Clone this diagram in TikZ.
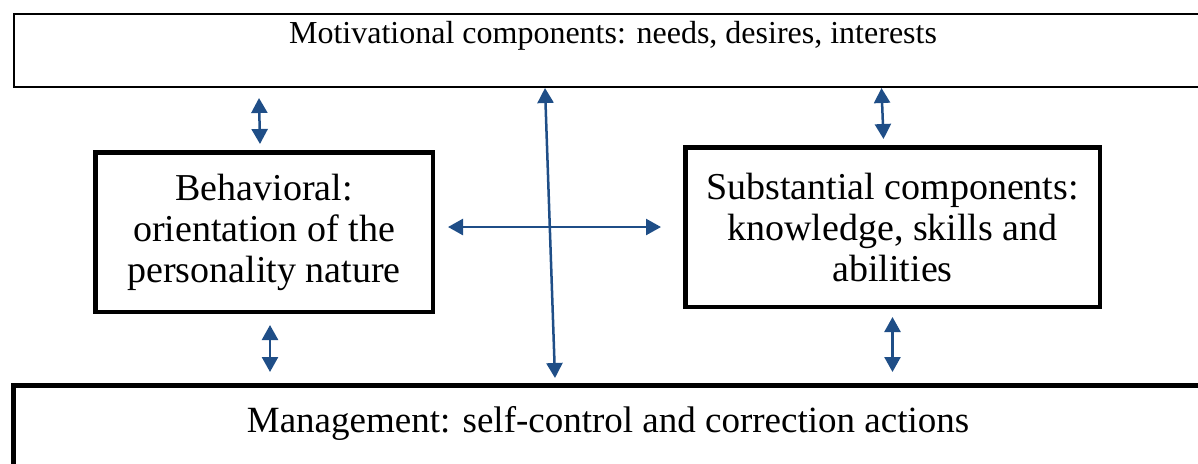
\documentclass[tikz,border=0pt]{standalone}
\usepackage{fontspec}
\setmainfont{Liberation Serif}
\usepackage{xcolor}
\usetikzlibrary{calc,
	positioning,
	arrows.meta}
\definecolor{arrowblue}{RGB}{31,78,135}

\begin{document}
\begin{tikzpicture}[x=0.5pt, y=-0.5pt,
	midbox/.style={draw, line width=2.25pt, align=center, inner sep=0pt, minimum height=79.75pt, font=\fontsize{19}{20.5}\selectfont},
	dblarrow/.style={draw=arrowblue, line width=1.25pt, {Triangle[length=7.5pt,width=8pt]}-{Triangle[length=7.5pt,width=8pt]}}]
	\clip (0, 0) rectangle (1198, 463);
	\node[draw, line width=1pt, inner sep=0pt, text height=14.5pt, text depth=22pt, minimum width=599pt, anchor=base, font=\fontsize{16}{19}\selectfont] (motiv) at (613, 43) {Motivational components: needs, desires, interests};
	\node[midbox, minimum width=168.75pt] (behav) at (264, 232) {Behavioral:\\orientation of the\\personality nature};
	\node[midbox, minimum width=207.25pt] (subst) at (892.5, 227) {Substantial components:\\knowledge, skills and\\abilities};
	\node[draw, line width=2.5pt, inner sep=0pt, text height=23.25pt, text depth=19pt, minimum width=594.5pt, anchor=base, font=\fontsize{18.5}{21}\selectfont] (mgmt) at (608, 432) {Management: self-control and correction actions};
	\draw[dblarrow] ($(motiv.south -| behav.north)+(-5, 10)$) -- ($(behav.north)+(-4, -6)$);
	\draw[dblarrow] ($(motiv.south -| subst.north)+(-11, 0)$) -- ($(subst.north)+(-9, -6)$);
	\draw[dblarrow] ($(behav.south)+(6, 11)$) -- ($(mgmt.north -| behav.south)+(6, -11)$);
	\draw[dblarrow] ($(subst.south)+(0, 8)$) -- ($(mgmt.north -| subst.south)+(0, -11)$);
	\draw[dblarrow] ($(behav.east)+(13, -5)$) -- ($(subst.west)+(-22, 0)$);
	\draw[dblarrow] ($(motiv.south)+(-68, 0)$) -- ($(mgmt.north)+(-53, -5)$);
\end{tikzpicture}
\end{document}
